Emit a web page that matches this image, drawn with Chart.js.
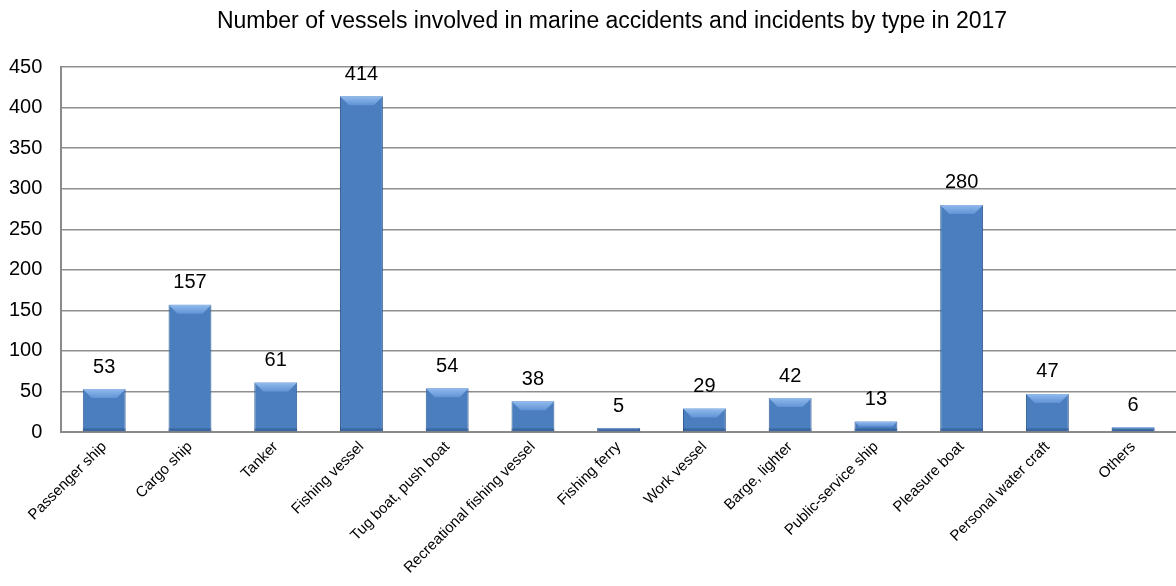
<!DOCTYPE html>
<html>
<head>
<meta charset="utf-8">
<script src="https://cdn.jsdelivr.net/npm/chart.js@4"></script>
<style>
  html, body { margin: 0; padding: 0; background: #fff; }
  #wrap { width: 1176px; height: 586px; position: relative; }
</style>
</head>
<body>
<div id="wrap"><canvas id="chart"></canvas></div>
<script>
/* Vessels in marine accidents by type, 2017 */

const TITLE = 'Number of vessels involved in marine accidents and incidents by type in 2017';
const CATEGORIES = ['Passenger ship', 'Cargo ship', 'Tanker', 'Fishing vessel', 'Tug boat, push boat',
  'Recreational fishing vessel', 'Fishing ferry', 'Work vessel', 'Barge, lighter',
  'Public-service ship', 'Pleasure boat', 'Personal water craft', 'Others'];
const VESSELS = [53, 157, 61, 414, 54, 38, 5, 29, 42, 13, 280, 47, 6];
const Y_MAX = 450;
const Y_STEP = 50;

const FONT = "'Liberation Sans', Arial, sans-serif";
Chart.defaults.font.family = FONT;
Chart.defaults.color = '#000';

// horizontal gradient so bars look rounded like the original
function barFill(ctx) {
  const chart = ctx.chart;
  const el = ctx.element;
  if (!el || el.x == null) return '#4a7ebf';
  const half = el.width / 2;
  const g = chart.ctx.createLinearGradient(el.x - half, 0, el.x + half, 0);
  g.addColorStop(0, '#2f5d98');
  g.addColorStop(0.18, '#467ac0');
  g.addColorStop(0.5, '#5289cf');
  g.addColorStop(0.82, '#467ac0');
  g.addColorStop(1, '#2f5d98');
  return g;
}

// title, bevel on each bar, value labels above
const decorations = {
  id: 'decorations',
  afterDatasetsDraw(chart) {
    const c = chart.ctx;
    const meta = chart.getDatasetMeta(0);
    meta.data.forEach((bar, i) => {
      const half = bar.width / 2;
      const h = bar.base - bar.y;
      const b = Math.min(9, h / 2);
      c.save();
      const tg = c.createLinearGradient(0, bar.y, 0, bar.y + b);
      tg.addColorStop(0, 'rgba(150,190,240,0.95)');
      tg.addColorStop(1, 'rgba(100,150,215,0.9)');
      c.fillStyle = tg;
      c.beginPath();
      c.moveTo(bar.x - half, bar.y);
      c.lineTo(bar.x + half, bar.y);
      c.lineTo(bar.x + half - b, bar.y + b);
      c.lineTo(bar.x - half + b, bar.y + b);
      c.closePath();
      c.fill();
      c.fillStyle = 'rgba(30,60,110,0.35)';
      c.fillRect(bar.x - half, bar.base - Math.min(3, h), bar.width, Math.min(3, h));
      c.restore();

      c.save();
      c.font = '20px ' + FONT;
      c.fillStyle = '#000';
      c.textAlign = 'center';
      c.textBaseline = 'bottom';
      c.fillText(String(VESSELS[i]), bar.x, bar.y - 12);
      c.restore();
    });

    c.save();
    c.font = '23px ' + FONT;
    c.fillStyle = '#000';
    c.textAlign = 'center';
    c.textBaseline = 'middle';
    c.fillText(TITLE, chart.width / 2 + 24, 22);
    c.restore();
  }
};

new Chart(document.getElementById('chart'), {
  type: 'bar',
  data: {
    labels: CATEGORIES,
    datasets: [{
      data: VESSELS,
      backgroundColor: barFill,
      borderColor: '#355f96',
      borderWidth: 1,
      barPercentage: 0.5,
      categoryPercentage: 1,
    }],
  },
  options: {
    responsive: true,
    maintainAspectRatio: false,
    animation: false,
    // the first rotated label hangs left of the axis, so pull the plot left
    layout: { padding: { left: -10, right: -6, top: 67, bottom: 3 } },
    plugins: {
      legend: { display: false },
      tooltip: { enabled: false },
      title: { display: false },
    },
    scales: {
      x: {
        grid: { display: false, drawTicks: false },
        border: { color: '#8a8a8a', width: 2 },
        ticks: { maxRotation: 45, minRotation: 45, padding: 6, font: { size: 15 }, color: '#000' },
      },
      y: {
        min: 0, max: Y_MAX,
        grid: { color: '#8f8f8f', lineWidth: 1.5, tickLength: 0 },
        border: { color: '#8a8a8a', width: 2 },
        ticks: { stepSize: Y_STEP, padding: 19, font: { size: 20 }, color: '#000' },
      },
    },
  },
  plugins: [decorations],
});
</script>
</body>
</html>
